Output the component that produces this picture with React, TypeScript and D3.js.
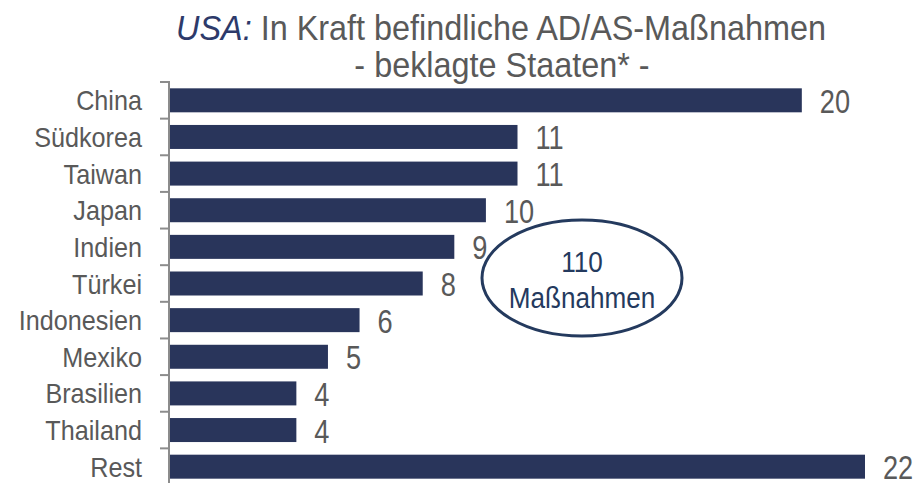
import * as d3 from 'd3';
import {useEffect, useRef} from 'react';

const countries = ['China', 'Südkorea', 'Taiwan', 'Japan', 'Indien', 'Türkei', 'Indonesien', 'Mexiko', 'Brasilien', 'Thailand', 'Rest'];
const values = [20, 11, 11, 10, 9, 8, 6, 5, 4, 4, 22];
const totalLabel = ['110', 'Maßnahmen'];

// no narrow font installed, so squeeze Liberation Sans horizontally
const FONT = '"Liberation Sans", Arial, sans-serif';
const NAVY = '#29355b';
const GRAY = '#595959';

export default function App() {
    const ref = useRef(null);
    const width = 924;
    const height = 483;

    useEffect(() => {
        const svg = d3.select(ref.current);
        svg.selectAll('*').remove();

        const narrow = (x: number, y: number, size: number, anchor = 'start', squeeze = 0.9) =>
            svg
                .append('g')
                .attr('transform', `translate(${x},${y}) scale(${squeeze},1)`)
                .append('text')
                .attr('text-anchor', anchor)
                .style('font-family', FONT)
                .style('font-size', `${size}px`)
                .attr('fill', GRAY);

        const x = d3.scaleLinear().domain([0, 22]).range([170, 865]);
        const y = d3
            .scaleBand()
            .domain(countries)
            .range([82, 485])
            .paddingInner(0.345)
            .paddingOuter(0.1725);
        const gap = (y.step() - y.bandwidth()) / 2;

        // title
        const title = narrow(501, 40, 36, 'middle');
        title.append('tspan').attr('fill', '#2d3a6a').style('font-style', 'italic').text('USA:');
        title.append('tspan').text(' In Kraft befindliche AD/AS-Maßnahmen');
        narrow(502, 77, 36, 'middle').text('- beklagte Staaten* -');

        // bars
        svg.selectAll('.bar')
            .data(values)
            .join('rect')
            .attr('class', 'bar')
            .attr('x', x(0))
            .attr('y', (_, i) => y(countries[i]))
            .attr('width', (d) => x(d) - x(0))
            .attr('height', y.bandwidth())
            .attr('fill', NAVY);

        values.forEach((v, i) => {
            narrow(x(v) + 18, y(countries[i]) + y.bandwidth() / 2 + 12.5, 34, 'start', 0.8).text(v);
        });

        // axis with ticks at category boundaries
        svg.append('line')
            .attr('x1', 169).attr('x2', 169)
            .attr('y1', 81).attr('y2', height)
            .attr('stroke', '#8c8c8c').attr('stroke-width', 2);
        svg.selectAll('.tick')
            .data(countries)
            .join('line')
            .attr('class', 'tick')
            .attr('x1', 160).attr('x2', 169)
            .attr('y1', (d) => y(d) - gap)
            .attr('y2', (d) => y(d) - gap)
            .attr('stroke', '#8c8c8c').attr('stroke-width', 2);
        countries.forEach((c) => {
            narrow(142, y(c) + y.bandwidth() / 2 + 10, 28, 'end').text(c);
        });

        // total ellipse
        svg.append('ellipse')
            .attr('cx', 582).attr('cy', 278)
            .attr('rx', 100).attr('ry', 58)
            .attr('fill', 'white')
            .attr('stroke', '#243a5e').attr('stroke-width', 3);
        totalLabel.forEach((t, i) => {
            narrow(582, 272 + i * 36, 29, 'middle').attr('fill', '#243a5e').text(t);
        });
    }, []);

    return <svg ref={ref} width={width} height={height} style={{position: 'absolute', left: 0, top: 0}}></svg>;
}
